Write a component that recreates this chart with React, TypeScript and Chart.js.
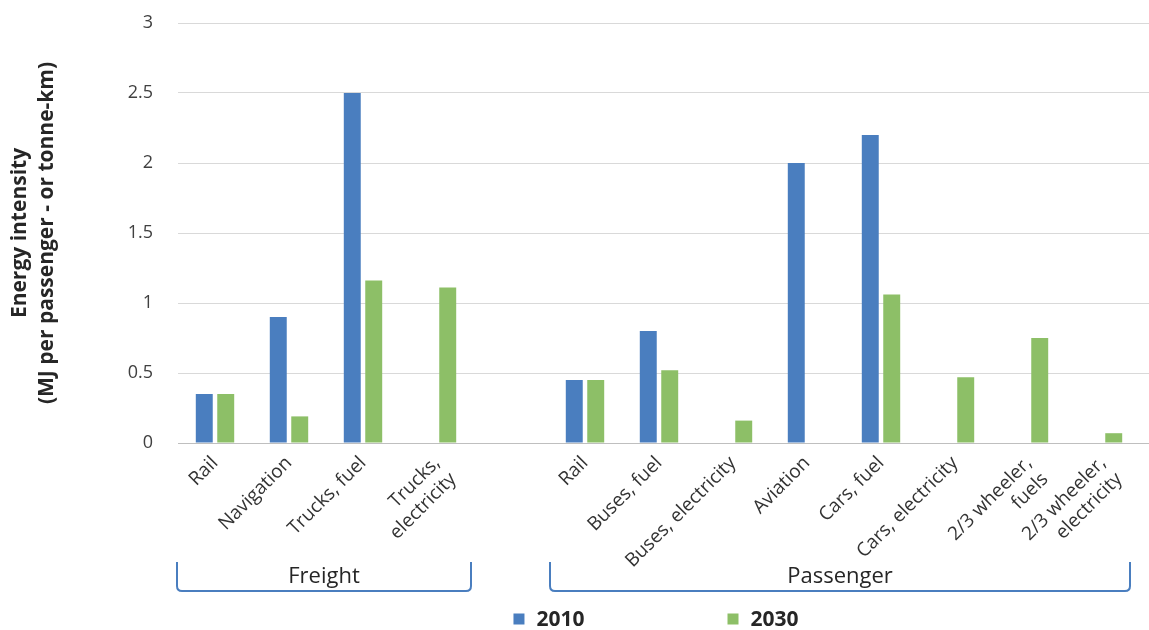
import React, { useEffect, useRef } from "react";
import { Chart, registerables } from "chart.js";

Chart.register(...registerables);

// ---------- data ----------
const categories: (string | string[])[] = [
  "Rail",
  "Navigation",
  "Trucks, fuel",
  ["Trucks,", "electricity"],
  "",
  "Rail",
  "Buses, fuel",
  "Buses, electricity",
  "Aviation",
  "Cars, fuel",
  "Cars, electricity",
  ["2/3 wheeler,", "fuels"],
  ["2/3 wheeler,", "electricity"],
];

const values2010: (number | null)[] = [0.35, 0.9, 2.5, null, null, 0.45, 0.8, null, 2.0, 2.2, null, null, null];
const values2030: (number | null)[] = [0.35, 0.19, 1.16, 1.11, null, 0.45, 0.52, 0.16, null, 1.06, 0.47, 0.75, 0.07];

const seriesNames = ["2010", "2030"];
const seriesColors = ["#4a7ebf", "#8dbf67"];

const groupLabels = ["Freight", "Passenger"];
const groupFrom = [0, 5];
const groupTo = [3, 12];

const yMin = 0;
const yMax = 3;
const yStep = 0.5;
const yTitle = ["Energy intensity", "(MJ per passenger - or tonne-km)"];

const FONT = "'Open Sans', sans-serif";

const decorPlugin = {
  id: "decor",
  beforeDatasetsDraw(chart: any) {
    const { ctx, chartArea } = chart;
    const ys = chart.scales.y;
    ctx.save();
    ctx.lineWidth = 1;
    ys.ticks.forEach((t: any) => {
      const py = Math.round(ys.getPixelForValue(t.value) + 0.5) - 0.5;
      ctx.strokeStyle = t.value === 0 ? "#bfbfbf" : "#d9d9d9";
      ctx.beginPath();
      ctx.moveTo(chartArea.right, py);
      ctx.lineTo(chart.width, py);
      ctx.stroke();
    });
    ctx.restore();
  },
  afterDraw(chart: any) {
    const { ctx, chartArea } = chart;
    const xs = chart.scales.x;
    const half = (xs.getPixelForValue(1) - xs.getPixelForValue(0)) / 2;
    ctx.save();
    // brackets
    const top = 562;
    const bottom = 591;
    const r = 5;
    groupLabels.forEach((lab, i) => {
      const left = xs.getPixelForValue(groupFrom[i]) - half + (i === 0 ? -1 : 2);
      const right = Math.min(xs.getPixelForValue(groupTo[i]) + half - 3, chartArea.right - 10);
      ctx.strokeStyle = "#4a7ebf";
      ctx.lineWidth = 2;
      ctx.beginPath();
      ctx.moveTo(left, top);
      ctx.lineTo(left, bottom - r);
      ctx.quadraticCurveTo(left, bottom, left + r, bottom);
      ctx.lineTo(right - r, bottom);
      ctx.quadraticCurveTo(right, bottom, right, bottom - r);
      ctx.lineTo(right, top);
      ctx.stroke();
      ctx.fillStyle = "#262626";
      ctx.font = `22px ${FONT}`;
      ctx.textAlign = "center";
      ctx.textBaseline = "middle";
      ctx.fillText(lab, (left + right) / 2, 577);
    });
    // legend
    ctx.font = `bold 21px ${FONT}`;
    const box = 11;
    const gapBoxText = 12;
    const itemGap = 143;
    const widths = seriesNames.map((n) => box + gapBoxText + ctx.measureText(n).width);
    const total = widths.reduce((a, b) => a + b, 0) + itemGap * (seriesNames.length - 1);
    let x = (chartArea.left + chartArea.right) / 2 - total / 2 - 3;
    const cy = 619;
    seriesNames.forEach((n, i) => {
      ctx.fillStyle = seriesColors[i];
      ctx.fillRect(x, cy - box / 2, box, box);
      ctx.fillStyle = "#262626";
      ctx.textAlign = "left";
      ctx.textBaseline = "middle";
      ctx.fillText(n, x + box + gapBoxText, cy + 1);
      x += widths[i] + itemGap;
    });
    ctx.restore();
  },
};

export default function App() {
  const ref = useRef<HTMLCanvasElement | null>(null);

  useEffect(() => {
    if (!ref.current) return;
    const chart = new Chart(ref.current, {
      type: "bar",
      data: {
        labels: categories,
        datasets: [
          {
            label: seriesNames[0],
            data: values2010,
            backgroundColor: seriesColors[0],
            categoryPercentage: 0.58,
            barPercentage: 0.79,
          },
          {
            label: seriesNames[1],
            data: values2030,
            backgroundColor: seriesColors[1],
            categoryPercentage: 0.58,
            barPercentage: 0.79,
          },
        ],
      },
      options: {
        responsive: false,
        animation: false,
        layout: { padding: { left: 0, right: 9, top: 23, bottom: 0 } },
        plugins: {
          legend: { display: false },
          tooltip: { enabled: false },
        },
        scales: {
          x: {
            grid: { display: false, drawTicks: false },
            border: { display: false },
            ticks: {
              autoSkip: false,
              maxRotation: 45,
              minRotation: 45,
              padding: 9,
              color: "#333333",
              font: { family: FONT, size: 19 },
            },
            afterFit(scale: any) {
              scale.height = 187;
            },
          },
          y: {
            min: yMin,
            max: yMax,
            grid: {
              drawTicks: false,
              color: (c: any) => (c.tick && c.tick.value === 0 ? "#bfbfbf" : "#d9d9d9"),
            },
            border: { display: false },
            ticks: {
              stepSize: yStep,
              padding: 25,
              color: "#404040",
              font: { family: FONT, size: 18 },
              callback: (v: any) => String(Number(v)),
            },
            title: {
              display: true,
              text: yTitle,
              color: "#262626",
              font: { family: FONT, size: 21, weight: "bold", lineHeight: "27px" },
              padding: { top: 7, bottom: 0 },
            },
            afterFit(scale: any) {
              scale.width = 178;
              scale.paddingTop = 12;
              scale.paddingBottom = 12;
            },
          },
        },
      },
      plugins: [decorPlugin],
    });
    return () => chart.destroy();
  }, []);

  return (
    <div style={{ position: "absolute", left: 0, top: 0, width: 1149, height: 630, background: "#fff" }}>
      <canvas ref={ref} width={1149} height={630} style={{ display: "block" }} />
    </div>
  );
}
